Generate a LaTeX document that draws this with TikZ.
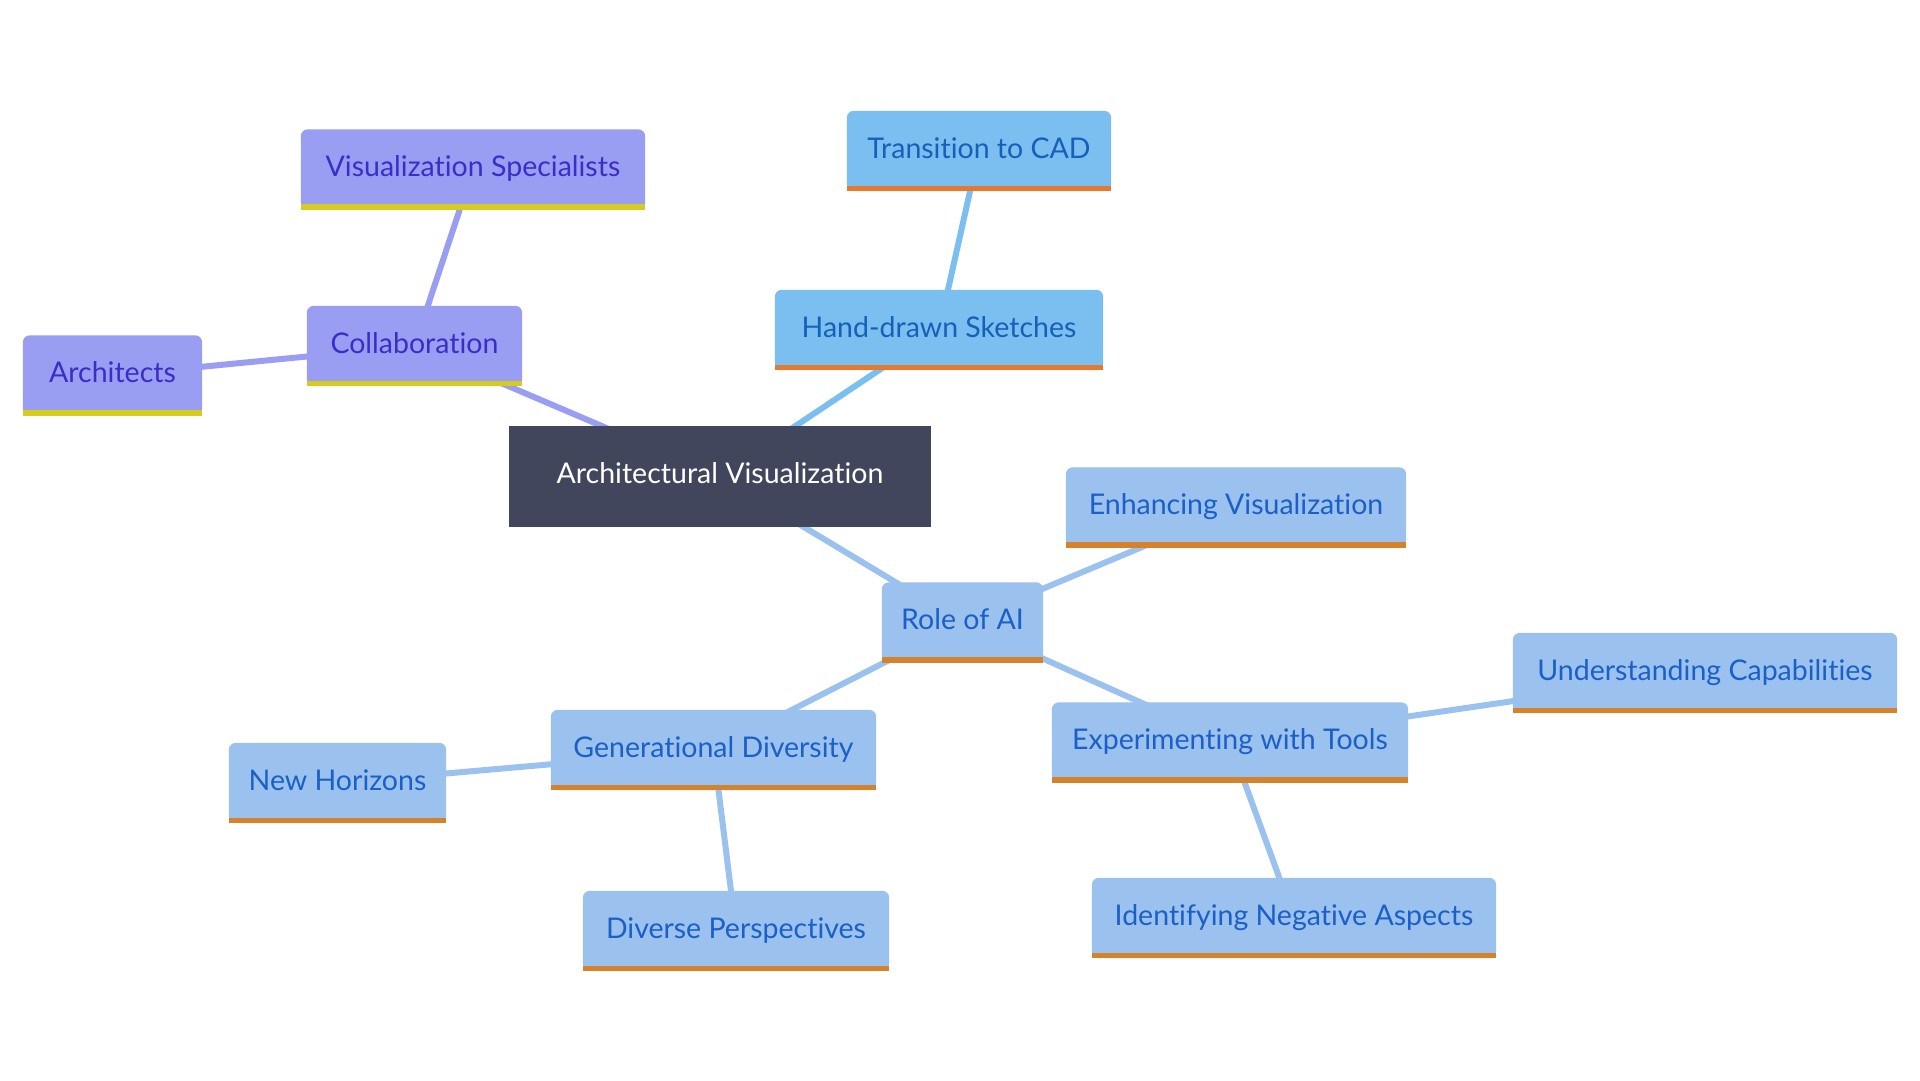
\documentclass[tikz,border=0pt]{standalone}
\usepackage{fontspec}
\setmainfont{Lato}[Ligatures={NoCommon}]
\usetikzlibrary{calc}
\definecolor{pfill}{HTML}{9A9EF2}
\definecolor{ptext}{HTML}{3A2DC8}
\definecolor{pbar}{HTML}{D6CB1F}
\definecolor{sfill}{HTML}{7BBFF0}
\definecolor{stext}{HTML}{1560B8}
\definecolor{sbar}{HTML}{E5792D}
\definecolor{bfill}{HTML}{9BC2EE}
\definecolor{btext}{HTML}{1B5FC7}
\definecolor{bbar}{HTML}{D6822A}
\definecolor{dark}{HTML}{41465C}
\pgfdeclarelayer{edgelayer}
\pgfdeclarelayer{cardlayer}
\pgfsetlayers{edgelayer,cardlayer,main}
\newcommand\cardfont{\fontsize{28.5}{33}\selectfont}
\newcommand\mycard[3]{%
  \fill[#2, rounded corners=7pt] (#1.south west) rectangle (#1.north east);
  \fill[#2] (#1.south west) rectangle (#1.east);
  \fill[#3] (#1.south west) rectangle ([yshift=5.5pt]#1.south east);
}
\tikzset{
  card/.style={minimum height=80pt, inner sep=0pt, text height=24pt, text depth=10pt, font=\cardfont},
  pnode/.style={card, text=ptext},
  snode/.style={card, text=stext},
  bnode/.style={card, text=btext},
  pline/.style={draw=pfill, line width=6pt},
  sline/.style={draw=sfill, line width=6pt},
  bline/.style={draw=bfill, line width=6pt},
}
\begin{document}
\begin{tikzpicture}[x=1pt,y=-1pt]
\useasboundingbox (0,0) rectangle (1920,1080);
% nodes
\node[card, minimum width=422pt, minimum height=101pt, text=white] (av) at (720,476.5) {Architectural Visualization};
\node[pnode, minimum width=344pt] (vs) at (473,169.5) {Visualization Specialists};
\node[pnode, minimum width=215pt] (col) at (414.5,346) {Collaboration};
\node[pnode, minimum width=179pt] (arc) at (112.5,375.5) {Architects};
\node[snode, minimum width=264pt] (cad) at (979,151) {Transition to CAD};
\node[snode, minimum width=328pt] (hds) at (939,330) {Hand-drawn Sketches};
\node[bnode, minimum width=340pt] (enh) at (1236,507.5) {Enhancing Visualization};
\node[bnode, minimum width=161pt] (ai) at (962.5,622.5) {Role of AI};
\node[bnode, minimum width=384pt] (uc) at (1705,673) {Understanding Capabilities};
\node[bnode, minimum width=356pt] (exp) at (1230,742.5) {Experimenting with Tools};
\node[bnode, minimum width=325pt] (gen) at (713.5,750) {Generational Diversity};
\node[bnode, minimum width=217pt] (nh) at (337.5,783) {New Horizons};
\node[bnode, minimum width=306pt] (dp) at (736,931) {Diverse Perspectives};
\node[bnode, minimum width=404pt] (ina) at (1294,918) {Identifying Negative Aspects};
% cards
\begin{pgfonlayer}{cardlayer}
\fill[dark] (av.south west) rectangle (av.north east);
\mycard{vs}{pfill}{pbar}
\mycard{col}{pfill}{pbar}
\mycard{arc}{pfill}{pbar}
\mycard{cad}{sfill}{sbar}
\mycard{hds}{sfill}{sbar}
\mycard{enh}{bfill}{bbar}
\mycard{ai}{bfill}{bbar}
\mycard{uc}{bfill}{bbar}
\mycard{exp}{bfill}{bbar}
\mycard{gen}{bfill}{bbar}
\mycard{nh}{bfill}{bbar}
\mycard{dp}{bfill}{bbar}
\mycard{ina}{bfill}{bbar}
\end{pgfonlayer}
% edges
\begin{pgfonlayer}{edgelayer}
\fill[white] (0,0) rectangle (1920,1080);
\draw[pline] (av.center) -- (col.center);
\draw[pline] (col.center) -- (vs.center);
\draw[pline] (col.center) -- (arc.center);
\draw[sline] (av.center) -- (hds.center);
\draw[sline] (hds.center) -- (cad.center);
\draw[bline] (av.center) -- (ai.center);
\draw[bline] (ai.center) -- (enh.center);
\draw[bline] (ai.center) -- (exp.center);
\draw[bline] (ai.center) -- (gen.center);
\draw[bline] (exp.center) -- (uc.center);
\draw[bline] (exp.center) -- (ina.center);
\draw[bline] (gen.center) -- (nh.center);
\draw[bline] (gen.center) -- (dp.center);
\end{pgfonlayer}
\end{tikzpicture}
\end{document}
